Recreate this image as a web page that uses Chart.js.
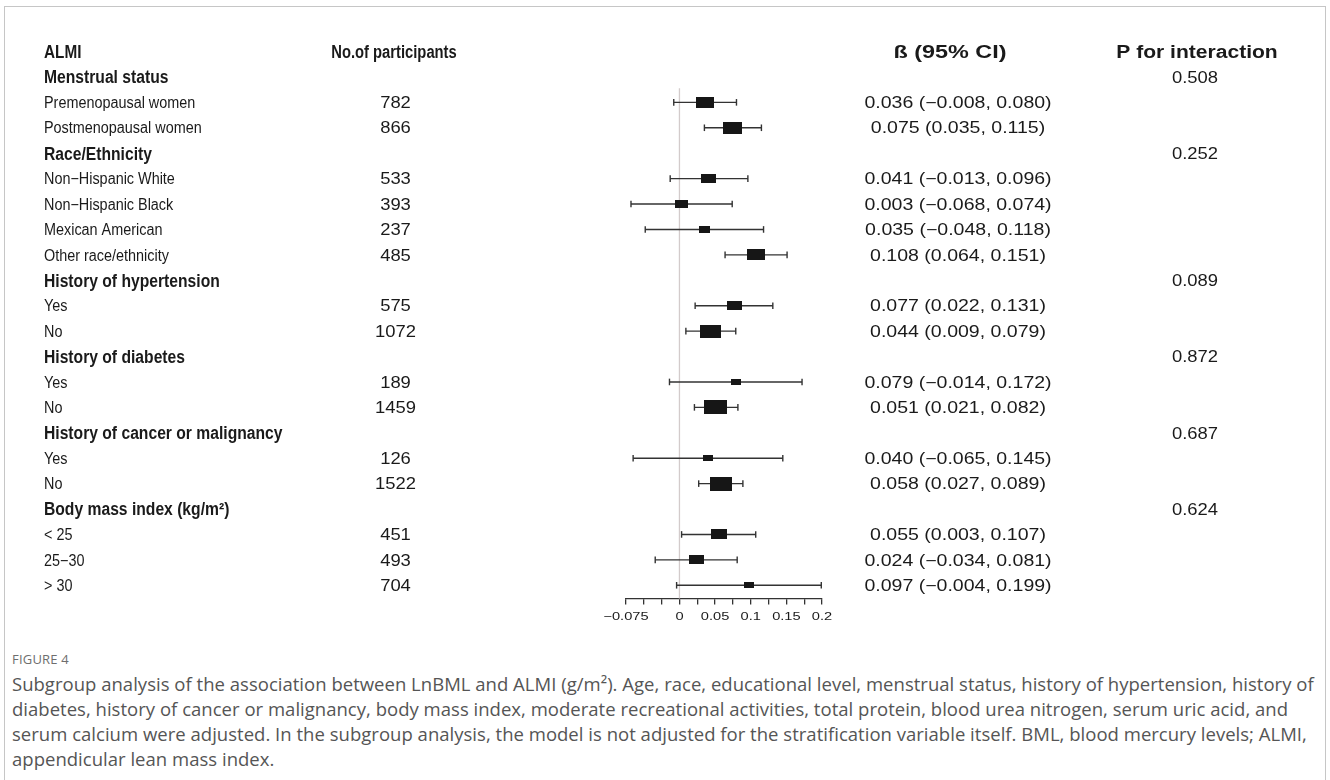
<!DOCTYPE html>
<html>
<head>
<meta charset="utf-8">
<script src="https://cdn.jsdelivr.net/npm/chart.js@4.4.1/dist/chart.umd.min.js"></script>
<style>
  html, body { margin: 0; padding: 0; background: #fff; }
  body { width: 1330px; height: 780px; position: relative; overflow: hidden; }
  #frame { position: absolute; left: 4px; top: 6px; width: 1322px; height: 820px; border: 1.5px solid #c6c6c6; box-sizing: border-box; }
  #wrap { position: absolute; left: 0; top: 0; width: 1330px; height: 640px; }
  #fig { position: absolute; left: 12px; top: 650px; font: 13px "Open Sans", sans-serif; color: #6e6e6e; letter-spacing: 0.2px; }
  #cap { position: absolute; left: 12px; top: 671px; font: 18.5px "Open Sans", sans-serif; line-height: 25px; color: #555; white-space: nowrap; letter-spacing: 0.02px; }
</style>
</head>
<body>
<div id="frame"></div>
<div id="wrap"><canvas id="forest" width="1330" height="640"></canvas></div>
<div id="fig">FIGURE 4</div>
<div id="cap">Subgroup analysis of the association between LnBML and ALMI (g/m²). Age, race, educational level, menstrual status, history of hypertension, history of<br>diabetes, history of cancer or malignancy, body mass index, moderate recreational activities, total protein, blood urea nitrogen, serum uric acid, and<br>serum calcium were adjusted. In the subgroup analysis, the model is not adjusted for the stratification variable itself. BML, blood mercury levels; ALMI,<br>appendicular lean mass index.</div>
<script>
// Subgroup rows, top to bottom
const rowLabels = [
  'Menstrual status', 'Premenopausal women', 'Postmenopausal women',
  'Race/Ethnicity', 'Non\u2212Hispanic White', 'Non\u2212Hispanic Black', 'Mexican American', 'Other race/ethnicity',
  'History of hypertension', 'Yes', 'No',
  'History of diabetes', 'Yes', 'No',
  'History of cancer or malignancy', 'Yes', 'No',
  'Body mass index (kg/m\u00b2)', '< 25', '25\u221230', '> 30'
];
const groupHeader = [true, false, false, true, false, false, false, false, true, false, false,
  true, false, false, true, false, false, true, false, false, false];
const participants = [null, 782, 866, null, 533, 393, 237, 485, null, 575, 1072,
  null, 189, 1459, null, 126, 1522, null, 451, 493, 704];
const beta  = [null, 0.036, 0.075, null, 0.041, 0.003, 0.035, 0.108, null, 0.077, 0.044,
  null, 0.079, 0.051, null, 0.040, 0.058, null, 0.055, 0.024, 0.097];
const lower = [null, -0.008, 0.035, null, -0.013, -0.068, -0.048, 0.064, null, 0.022, 0.009,
  null, -0.014, 0.021, null, -0.065, 0.027, null, 0.003, -0.034, -0.004];
const upper = [null, 0.080, 0.115, null, 0.096, 0.074, 0.118, 0.151, null, 0.131, 0.079,
  null, 0.172, 0.082, null, 0.145, 0.089, null, 0.107, 0.081, 0.199];
const pInteraction = ['0.508', null, null, '0.252', null, null, null, null, '0.089', null, null,
  '0.872', null, null, '0.687', null, null, '0.624', null, null, null];
const columnHeaders = ['ALMI', 'No.of participants', '\u00df (95% CI)', 'P for interaction'];
const tickValues = [-0.075, 0, 0.05, 0.1, 0.15, 0.2];
const tickLabels = ['\u22120.075', '0', '0.05', '0.1', '0.15', '0.2'];

const fmt = v => (v < 0 ? '\u2212' : '') + Math.abs(v).toFixed(3);
const ROW = i => i + 1;                 // row 0 holds the column headers
const items = beta.map((b, i) => i).filter(i => beta[i] !== null);

// box size shrinks as the interval widens
function boxCanvas(i) {
  const h = 2.0 * Math.pow(upper[i] - lower[i], -0.7);
  const w = 1.6 * h;
  const c = document.createElement('canvas');
  c.width = Math.round(w); c.height = Math.round(h);
  const g = c.getContext('2d');
  g.fillStyle = '#161616';
  g.fillRect(0, 0, c.width, c.height);
  return c;
}
const boxes = items.map(boxCanvas);

const whiskerSets = items.map(i => ({
  type: 'line',
  data: [{ x: lower[i], y: ROW(i) }, { x: upper[i], y: ROW(i) }],
  borderColor: '#333', borderWidth: 1.4, pointRadius: 0, order: 3, clip: false
}));

const datasets = [
  { // reference line at zero
    type: 'line',
    data: [{ x: 0, y: 1.45 }, { x: 0, y: 21.52 }],
    borderColor: '#d3cbcb', borderWidth: 1.3, pointRadius: 0, order: 5, clip: false
  },
  ...whiskerSets,
  { // interval end caps
    type: 'scatter',
    data: items.flatMap(i => [{ x: lower[i], y: ROW(i) }, { x: upper[i], y: ROW(i) }]),
    pointStyle: 'line', rotation: 90, radius: 3.3, borderColor: '#333', borderWidth: 1.4,
    order: 2, clip: false
  },
  { // point estimates
    type: 'scatter',
    data: items.map(i => ({ x: beta[i], y: ROW(i) })),
    pointStyle: ctx => boxes[ctx.dataIndex], radius: 5, order: 1, clip: false
  }
];

const INK = '#1a1a1a';
const REG = '16px "Liberation Sans", Arial, sans-serif';
const BOLD = 'bold 18px "Liberation Sans", Arial, sans-serif';

function put(ctx, txt, x, y, font, size, align, sx) {
  ctx.save();
  ctx.font = font;
  ctx.fillStyle = INK;
  ctx.textAlign = align;
  ctx.textBaseline = 'alphabetic';
  ctx.translate(x, y + 0.358 * size);
  ctx.scale(sx, 1);
  ctx.fillText(txt, 0, 0);
  ctx.restore();
}

const tableText = {
  id: 'tableText',
  afterDraw(chart) {
    const ctx = chart.ctx, ys = chart.scales.y, xs = chart.scales.x;
    const y0 = ys.getPixelForValue(0);
    put(ctx, columnHeaders[0], 44, y0, BOLD, 18, 'left', 0.85);
    put(ctx, columnHeaders[1], 394, y0, BOLD, 18, 'center', 0.82);
    put(ctx, columnHeaders[2], 950, y0, BOLD, 18, 'center', 1.3);
    put(ctx, columnHeaders[3], 1197, y0, BOLD, 18, 'center', 1.17);
    rowLabels.forEach((lab, i) => {
      const y = ys.getPixelForValue(ROW(i));
      if (groupHeader[i]) put(ctx, lab, 44, y, BOLD, 18, 'left', 0.87);
      else put(ctx, lab, 44, y, REG, 16, 'left', 0.9);
      if (participants[i] !== null) put(ctx, String(participants[i]), 395.5, y, REG, 16, 'center', 1.15);
      if (beta[i] !== null) {
        const s = fmt(beta[i]) + ' (' + fmt(lower[i]) + ', ' + fmt(upper[i]) + ')';
        put(ctx, s, 958, y, REG, 16, 'center', 1.22);
      }
      if (pInteraction[i] !== null) put(ctx, pInteraction[i], 1195, y, REG, 16, 'center', 1.15);
    });
    // axis tick labels
    const ty = xs.top + 17.5;
    tickValues.forEach((v, k) => {
      put(ctx, tickLabels[k], xs.getPixelForValue(v), ty, '11px "Liberation Sans", Arial, sans-serif', 11, 'center', 1.33);
    });
  }
};

new Chart(document.getElementById('forest'), {
  data: { datasets },
  options: {
    responsive: false,
    animation: false,
    devicePixelRatio: 1,
    layout: { padding: { left: 626, right: 508, top: 26.1, bottom: 11.5 } },
    plugins: { legend: { display: false }, tooltip: { enabled: false } },
    scales: {
      x: {
        type: 'linear', position: 'bottom',
        min: -0.075, max: 0.2,
        ticks: { display: false, stepSize: 0.025 },
        grid: { drawOnChartArea: false, drawTicks: true, tickLength: 6, color: '#333', lineWidth: 1.3 },
        border: { display: true, color: '#333', width: 1.3 },
        afterFit(scale) { scale.height = 30; }
      },
      y: {
        type: 'linear', display: false, reverse: true,
        min: -1, max: 21.52
      }
    }
  },
  plugins: [tableText]
});
</script>
</body>
</html>
